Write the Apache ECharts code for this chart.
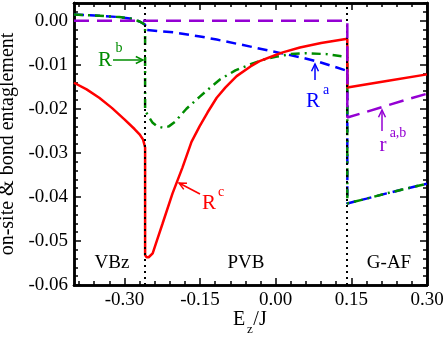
<!DOCTYPE html>
<html>
<head>
<meta charset="utf-8">
<script src="https://cdn.jsdelivr.net/npm/echarts@6/dist/echarts.min.js"></script>
<style>
  html, body { margin: 0; padding: 0; background: #fff; }
  #main { width: 447px; height: 338px; }
</style>
</head>
<body>
<div id="main"></div>
<script>
// axis ranges and tick labels
var xRange = [-0.40, 0.30];
var yRange = [-0.06, 0.004];
var xMajor = [-0.30, -0.15, 0.00, 0.15, 0.30];
var yMajor = [-0.06, -0.05, -0.04, -0.03, -0.02, -0.01, 0.00];
// phase boundaries (dotted lines)
var transitions = [-0.259, 0.142];

// r^{a,b}
var rab = [[-0.40, 0], [0.142, 0], [0.142, -0.0220], [0.18, -0.0207], [0.22, -0.0193], [0.26, -0.0179], [0.30, -0.0166]];

// R^a
var ra = [
  [-0.40, 0.0014], [-0.35, 0.0011], [-0.31, 0.0008], [-0.284, 0.0004], [-0.27, -0.0002], [-0.259, -0.0009],
  [-0.259, -0.0021], [-0.20, -0.0027], [-0.15, -0.0036], [-0.117, -0.0043], [-0.05, -0.0059], [0.015, -0.0075],
  [0.048, -0.0083], [0.087, -0.0094], [0.142, -0.0114],
  [0.142, -0.0415], [0.18, -0.0404], [0.22, -0.0392], [0.26, -0.0381], [0.30, -0.0370]
];

// R^b
var rb = [
  [-0.40, 0.0014], [-0.35, 0.0011], [-0.31, 0.0008], [-0.284, 0.0004], [-0.27, -0.0002], [-0.259, -0.0009],
  [-0.259, -0.0204], [-0.252, -0.0218], [-0.244, -0.0232], [-0.235, -0.0240], [-0.224, -0.0243], [-0.212, -0.0240],
  [-0.20, -0.0230], [-0.177, -0.0200], [-0.151, -0.0173], [-0.135, -0.0157], [-0.11, -0.0133], [-0.08, -0.0113],
  [-0.05, -0.0099], [-0.026, -0.0089], [0.0, -0.0082], [0.03, -0.0076], [0.06, -0.0074], [0.10, -0.0076], [0.142, -0.0083],
  [0.142, -0.0415], [0.18, -0.0404], [0.22, -0.0392], [0.26, -0.0381], [0.30, -0.0370]
];

// R^c
var rc = [
  [-0.40, -0.0141], [-0.375, -0.0156], [-0.35, -0.0175], [-0.325, -0.0198], [-0.30, -0.0224], [-0.28, -0.0246],
  [-0.27, -0.0258], [-0.263, -0.0270], [-0.259, -0.0288],
  [-0.259, -0.0532], [-0.256, -0.0537], [-0.252, -0.0537], [-0.244, -0.0528], [-0.235, -0.0497], [-0.2245, -0.0461],
  [-0.2046, -0.0392], [-0.1848, -0.0333], [-0.167, -0.0275], [-0.151, -0.0240], [-0.135, -0.0208], [-0.117, -0.0175],
  [-0.10, -0.0152], [-0.0775, -0.0126], [-0.05, -0.0104], [-0.032, -0.0092], [0.0, -0.0078], [0.014, -0.0072],
  [0.048, -0.0061], [0.09, -0.0051], [0.142, -0.0041],
  [0.142, -0.0152], [0.22, -0.0137], [0.30, -0.0122]
];

var FONT = '"Liberation Serif", "Times New Roman", serif';

// minor tick positions
var xMinor = [];
for (var k = -13; k <= 9; k++) {
  if (k % 5 !== 0) xMinor.push(Math.round(k * 30) / 1000);
}
var yMinor = [];
for (var k = -29; k <= 2; k++) {
  if (k % 5 !== 0) yMinor.push(Math.round(k * 2) / 1000);
}

function xAx(pos, ticks, len, labels) {
  return {
    type: 'value', min: xRange[0], max: xRange[1], position: pos,
    axisLine: { show: true, onZero: false, lineStyle: { color: '#000', width: 2.5 } },
    axisTick: { show: true, inside: true, length: len, customValues: ticks, lineStyle: { color: '#000', width: 1.5 } },
    axisLabel: labels ? {
      customValues: ticks, margin: 6, color: '#000', fontSize: 19, fontFamily: FONT,
      formatter: function (v) { return v.toFixed(2); }
    } : { show: false },
    splitLine: { show: false }
  };
}

function yAx(pos, ticks, len, labels) {
  var a = {
    type: 'value', min: yRange[0], max: yRange[1], position: pos,
    axisLine: { show: true, onZero: false, lineStyle: { color: '#000', width: 2.5 } },
    axisTick: { show: true, inside: true, length: len, customValues: ticks, lineStyle: { color: '#000', width: 1.5 } },
    axisLabel: labels ? {
      customValues: ticks, margin: 6, color: '#000', fontSize: 19, fontFamily: FONT,
      formatter: function (v) { return v.toFixed(2); }
    } : { show: false },
    splitLine: { show: false }
  };
  if (labels) {
    a.name = 'on-site & bond entaglement';
    a.nameLocation = 'middle';
    a.nameGap = 54;
    a.nameTextStyle = { color: '#000', fontSize: 20, fontFamily: FONT };
  }
  return a;
}

function arrow(x1, y1, x2, y2, color) {
  var a = Math.atan2(y2 - y1, x2 - x1), h = 8, s = 0.45;
  return [
    { type: 'line', shape: { x1: x1, y1: y1, x2: x2, y2: y2 }, style: { stroke: color, lineWidth: 1.5 } },
    { type: 'polyline', shape: { points: [
        [x2 - h * Math.cos(a - s), y2 - h * Math.sin(a - s)], [x2, y2],
        [x2 - h * Math.cos(a + s), y2 - h * Math.sin(a + s)]] },
      style: { stroke: color, lineWidth: 1.5, fill: null } }
  ];
}

function txt(x, y, s, size, color) {
  return { type: 'text', x: x, y: y, z: 10,
    style: { text: s, fill: color, fontSize: size, fontFamily: FONT, align: 'center', verticalAlign: 'middle' } };
}

var graphics = [].concat(
  txt(105, 60, 'R', 21, '#008c00'), txt(119, 48, 'b', 14, '#008c00'), arrow(113, 60, 143, 60, '#008c00'),
  txt(313, 101, 'R', 21, '#0000ff'), txt(326, 90, 'a', 14, '#0000ff'), arrow(315, 80, 315, 64, '#0000ff'),
  txt(383, 145, 'r', 21, '#9400d3'), txt(398, 133, 'a,b', 14, '#9400d3'), arrow(382, 131, 382, 110, '#9400d3'),
  txt(209, 203, 'R', 21, '#ff0000'), txt(221, 192, 'c', 14, '#ff0000'), arrow(200, 194, 179, 183, '#ff0000'),
  txt(112, 263, 'VBz', 19, '#000'), txt(246, 263, 'PVB', 19, '#000'), txt(389, 263, 'G-AF', 19, '#000'),
  txt(239, 320, 'E', 20, '#000'), txt(250, 330, 'z', 13, '#000'), txt(260, 320, '/J', 20, '#000')
);

var chart = echarts.init(document.getElementById('main'));

var option = {
  animation: false,
  backgroundColor: '#fff',
  grid: { left: 74, right: 20, top: 3, bottom: 53, outerBoundsMode: 'none' },
  xAxis: [xAx('bottom', xMajor, 7, true), xAx('bottom', xMinor, 4, false), xAx('top', xMajor, 7, false), xAx('top', xMinor, 4, false)],
  yAxis: [yAx('left', yMajor, 7, true), yAx('left', yMinor, 4, false), yAx('right', yMajor, 7, false), yAx('right', yMinor, 4, false)],
  series: [
    {
      name: 'R^a', type: 'line', data: ra, symbol: 'none', z: 2,
      lineStyle: { color: '#0000ff', width: 2.5, type: [10, 6] },
      markLine: {
        silent: true, symbol: 'none', label: { show: false },
        lineStyle: { color: '#000', width: 2, type: [2, 4] },
        data: transitions.map(function (v) { return { xAxis: v }; })
      }
    },
    { name: 'R^b', type: 'line', data: rb, symbol: 'none', z: 3,
      lineStyle: { color: '#008c00', width: 2.5, type: [9, 5, 2, 5] } },
    { name: 'R^c', type: 'line', data: rc, symbol: 'none', z: 4,
      lineStyle: { color: '#ff0000', width: 2.5 } },
    { name: 'r^ab', type: 'line', data: rab, symbol: 'none', z: 5,
      lineStyle: { color: '#9400d3', width: 2.5, type: [15, 8] } }
  ],
  graphic: graphics
};

chart.setOption(option);
</script>
</body>
</html>
